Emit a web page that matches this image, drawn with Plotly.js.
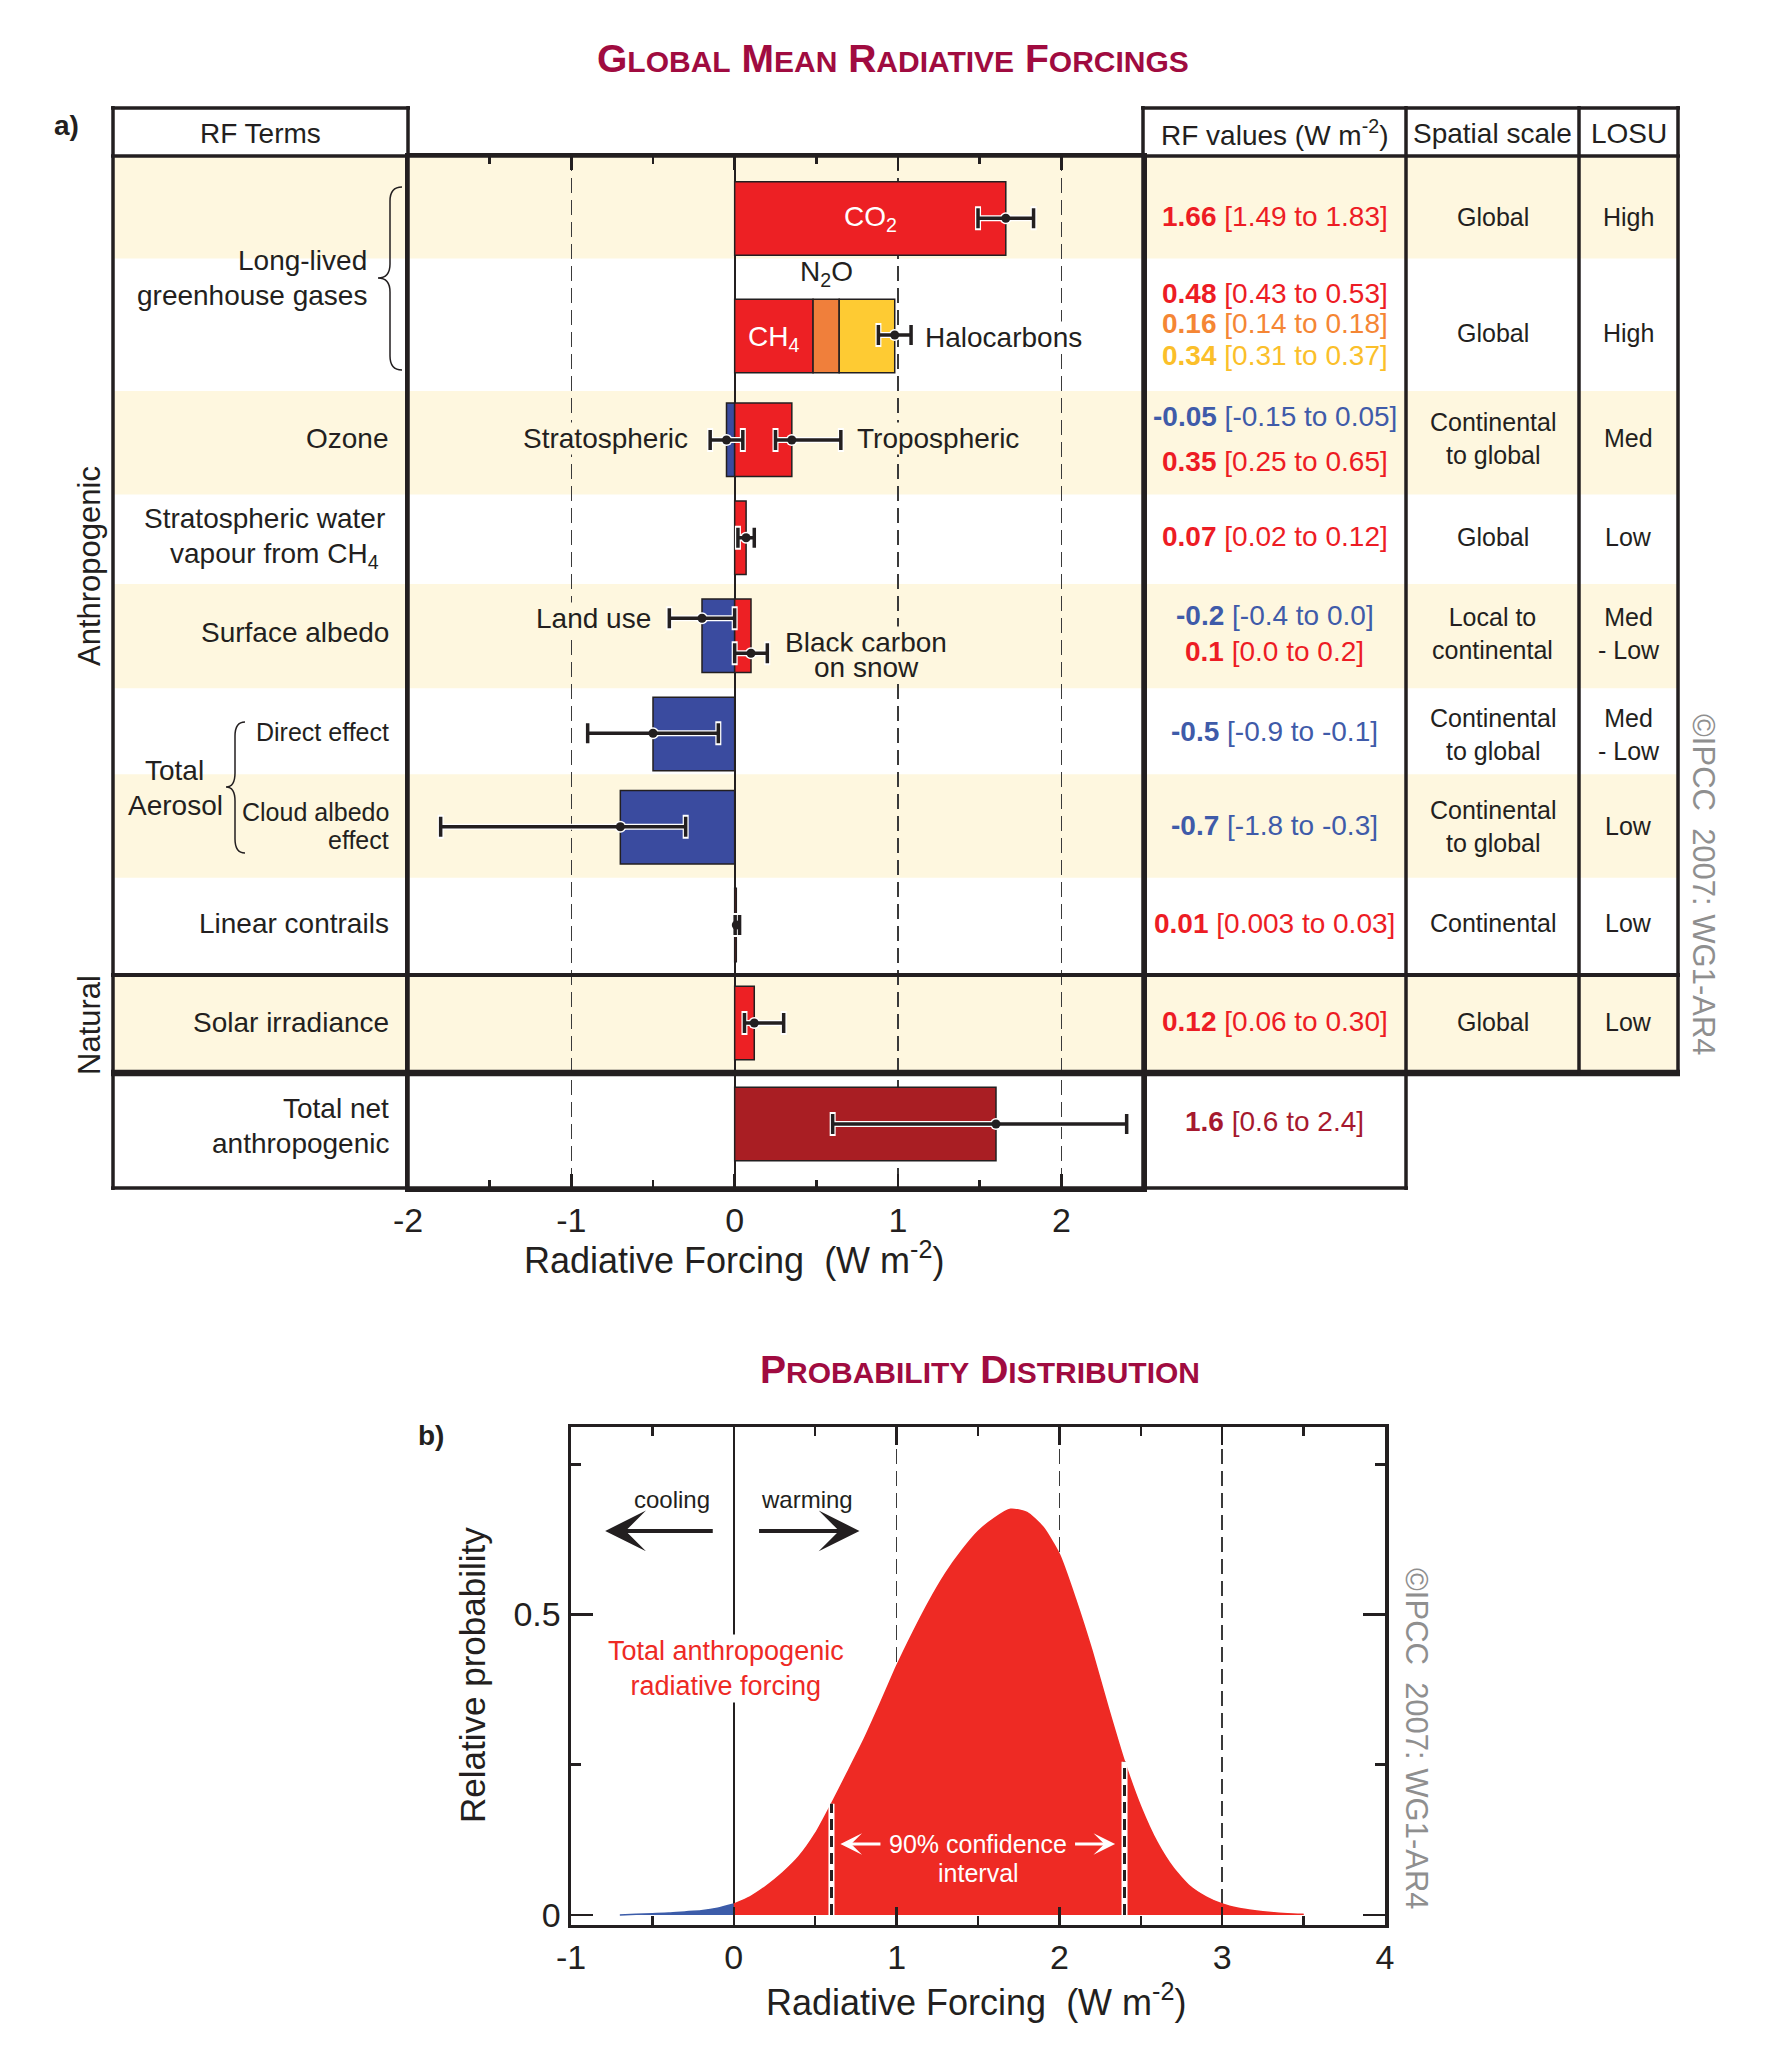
<!DOCTYPE html>
<html><head><meta charset="utf-8">
<script src="https://cdn.plot.ly/plotly-3.0.1.min.js"></script>
<style>html,body{margin:0;padding:0;background:#fff}</style>
</head><body><div id="chart" style="width:1772px;height:2048px"></div>
<script>
// ================= DATA : panel a (Global mean radiative forcings, W m-2) =================
const barTerms  = ['CO2','CH4','N2O','Halocarbons','Stratospheric ozone','Tropospheric ozone',
                   'Stratospheric water vapour from CH4','Land use','Black carbon on snow',
                   'Aerosol direct effect','Cloud albedo effect','Linear contrails','Solar irradiance',
                   'Total net anthropogenic'];
const barValues = [1.66, 0.48, 0.16, 0.34, -0.05, 0.35, 0.07, -0.2, 0.1, -0.5, -0.7, 0.01, 0.12, 1.6];
const barRow    = [0, 1, 1, 1, 2, 2, 3, 4, 4, 5, 6, 7, 8, 9];   // which table row each bar sits in

// uncertainty ranges drawn as whiskers (LLGHG non-CO2 stack has one whisker at its end)
const errTerms = ['CO2','CH4+N2O+Halocarbons','Stratospheric ozone','Tropospheric ozone',
                  'Stratospheric water vapour','Land use','Black carbon on snow','Direct effect',
                  'Cloud albedo effect','Linear contrails','Solar irradiance','Total net anthropogenic'];
const errOfBar = [0, 3, 4, 5, 6, 7, 8, 9, 10, 11, 12, 13];
const errLow   = [1.49, 0.88, -0.15, 0.25, 0.02, -0.4, 0.0, -0.9, -1.8, 0.003, 0.06, 0.6];
const errHigh  = [1.83, 1.08,  0.05, 0.65, 0.12,  0.0, 0.2, -0.1, -0.3, 0.03, 0.30, 2.4];

// table text
const rfMain  = ['1.66','0.48','0.16','0.34','-0.05','0.35','0.07','-0.2','0.1','-0.5','-0.7','0.01','0.12','1.6'];
const rfRange = ['[1.49 to 1.83]','[0.43 to 0.53]','[0.14 to 0.18]','[0.31 to 0.37]','[-0.15 to 0.05]',
                 '[0.25 to 0.65]','[0.02 to 0.12]','[-0.4 to 0.0]','[0.0 to 0.2]','[-0.9 to -0.1]',
                 '[-1.8 to -0.3]','[0.003 to 0.03]','[0.06 to 0.30]','[0.6 to 2.4]'];
const spatialScale = ['Global','Global','Continental<br>to global','Global','Local to<br>continental',
                      'Continental<br>to global','Continental<br>to global','Continental','Global'];
const losu = ['High','High','Med','Low','Med<br>- Low','Med<br>- Low','Low','Low','Low'];
const termLabels = ['Long-lived','greenhouse gases','Ozone','Stratospheric water','vapour from CH<sub>4</sub>',
                    'Surface albedo','Direct effect','Cloud albedo','effect','Linear contrails',
                    'Solar irradiance','Total net','anthropogenic'];
const xTicksA = [-2, -1, 0, 1, 2];

// ================= DATA : panel b (probability distribution) =================
const pdfX = [-0.7,-0.6,-0.5,-0.4,-0.3,-0.2,-0.1,0.0,0.1,0.2,0.3,0.4,0.5,0.6,0.7,0.8,0.9,1.0,1.1,1.2,1.3,1.4,
              1.5,1.6,1.7,1.8,1.9,2.0,2.1,2.2,2.3,2.4,2.5,2.6,2.7,2.8,2.9,3.0,3.1,3.2,3.3,3.4,3.5];
const pdfY = [0.000,0.001,0.002,0.003,0.005,0.007,0.011,0.018,0.030,0.048,0.070,0.097,0.135,0.185,0.238,
              0.292,0.352,0.414,0.470,0.522,0.568,0.606,0.638,0.660,0.675,0.670,0.645,0.600,0.525,0.440,
              0.345,0.255,0.180,0.121,0.078,0.048,0.030,0.018,0.011,0.007,0.004,0.002,0.001];
const ci90 = [0.6, 2.4];
const xTicksB = [-1, 0, 1, 2, 3, 4];
const yTicksB = [0, 0.5];

// ================= LAYOUT / STYLE =================
const W = 1772, H = 2048;
const px = v => v / W;
const py = v => 1 - v / H;
const FONT = 'Liberation Sans, Arial, Helvetica, sans-serif';
const INK = '#231f20';
const RED = '#ed2024', BLUE = '#3a4b9f', ORANGE = '#f07f3b', YELLOW = '#fecb33', DRED = '#a91e23';
const TRED = '#ed1c24', TBLUE = '#3f5ba9', TORANGE = '#f58634', TYELLOW = '#fbbf2a', TDRED = '#a6192e';
const BEIGE = '#fef7df';
const TITLE_C = '#a00b40';

const barColor = [RED, RED, ORANGE, YELLOW, BLUE, RED, RED, BLUE, RED, BLUE, BLUE, RED, RED, DRED];
const textColorOf = {}; textColorOf[RED]=TRED; textColorOf[BLUE]=TBLUE; textColorOf[ORANGE]=TORANGE;
textColorOf[YELLOW]=TYELLOW; textColorOf[DRED]=TDRED;

// panel a geometry (pixels of the page); y axis units = pixels below plot top (156)
const A_L = 408, A_R = 1143, A_T = 156, A_B = 1188;
const rowBarY = [62.5, 180, 283.7, 381.7, 479.8, 578, 671.3, 769, 867, 968];
const BAR_H = 73.5;
const errY = [62.3, 179, 284, 284, 381.7, 462.3, 497.3, 577.3, 670.7, 769, 867, 968];

// stacking: positive bars in one row stack on positives, negatives on negatives
const barBase = []; const posAcc = {}, negAcc = {};
barValues.forEach((v, i) => {
  const r = barRow[i];
  if (v >= 0) { barBase.push(posAcc[r] || 0); posAcc[r] = (posAcc[r] || 0) + v; }
  else { barBase.push(negAcc[r] || 0); negAcc[r] = (negAcc[r] || 0) + v; }
});
const barY = barRow.map(r => rowBarY[r]);
const errMid = errOfBar.map(i => barBase[i] + barValues[i]);

const data = [];
data.push({type:'bar', orientation:'h', x: barValues, base: barBase, y: barY,
  width: barY.map(() => BAR_H), xaxis:'x', yaxis:'y', hoverinfo:'skip',
  marker:{color: barColor, line:{color: INK, width: 1.5}}});
// whiskers: white halo then black
data.push({type:'scatter', mode:'markers', x: errMid, y: errY, xaxis:'x', yaxis:'y', hoverinfo:'skip',
  marker:{color:'#ffffff', size:12},
  error_x:{type:'data', symmetric:false, array: errHigh.map((h,i)=>h-errMid[i]),
    arrayminus: errLow.map((l,i)=>errMid[i]-l), color:'#ffffff', thickness:6, width:12}});
data.push({type:'scatter', mode:'markers', x: errMid, y: errY, xaxis:'x', yaxis:'y', hoverinfo:'skip',
  marker:{color: INK, size:9},
  error_x:{type:'data', symmetric:false, array: errHigh.map((h,i)=>h-errMid[i]),
    arrayminus: errLow.map((l,i)=>errMid[i]-l), color: INK, thickness:3.5, width:10}});

// panel b curve
const bx = [], byy = [], rx = [], ry = [];
pdfX.forEach((x, i) => { if (x <= 0) { bx.push(x); byy.push(pdfY[i]); } if (x >= 0) { rx.push(x); ry.push(pdfY[i]); } });
data.push({type:'scatter', mode:'lines', x: bx, y: byy, xaxis:'x2', yaxis:'y2', fill:'tozeroy',
  fillcolor:'#3c5ca9', line:{color:'#3c5ca9', width:1.5, shape:'spline', smoothing:0.6}, hoverinfo:'skip'});
data.push({type:'scatter', mode:'lines', x: rx, y: ry, xaxis:'x2', yaxis:'y2', fill:'tozeroy',
  fillcolor:'#ee2a24', line:{color:'#ee2a24', width:1.5, shape:'spline', smoothing:0.6}, hoverinfo:'skip'});
ci90.forEach(c => {
  const k = pdfX.findIndex(x => Math.abs(x - c) < 1e-9);
  const h = pdfY[k];
  data.push({type:'scatter', mode:'lines', x:[c, c], y:[0, h], xaxis:'x2', yaxis:'y2',
    line:{color:'#ffffff', width:6}, hoverinfo:'skip'});
  data.push({type:'scatter', mode:'lines', x:[c, c], y:[0, h], xaxis:'x2', yaxis:'y2',
    line:{color: INK, width:3, dash:'11px,6px'}, hoverinfo:'skip'});
});

// ---------- shapes ----------
const shapes = [];
const shadeRows = [[156,258.5],[391,494.5],[584,688.3],[774.3,877.7],[975,1073]];
shadeRows.forEach(([a,b]) => shapes.push({type:'rect', xref:'paper', yref:'paper', layer:'below',
  x0:px(113), x1:px(1678), y0:py(b), y1:py(a), fillcolor:BEIGE, line:{width:0}}));
function hline(y, x0, x1, w){ shapes.push({type:'line', xref:'paper', yref:'paper', x0:px(x0), x1:px(x1), y0:py(y), y1:py(y), line:{color:INK, width:w}}); }
function vline(x, y0, y1, w){ shapes.push({type:'line', xref:'paper', yref:'paper', x0:px(x), x1:px(x), y0:py(y0), y1:py(y1), line:{color:INK, width:w}}); }
hline(108, 111, 410, 3.5); hline(108, 1141, 1680, 3.5);
hline(156, 111, 1680, 3.5);
hline(975, 111, 1680, 4);
hline(1073, 111, 1680, 6.5);
hline(1188, 111, 1408, 3.5);
vline(113, 106, 1190, 3.5); vline(408, 106, 1190, 3.5); vline(1143, 106, 1190, 3.5);
vline(1406, 106, 1190, 3.5); vline(1579, 106, 1076, 3.5); vline(1678, 106, 1076, 3.5);
// curly braces
function brace(xEnd, xV, xTip, yTop, yTip, yBot){
  const r = 14;
  const P = (x, y) => px(x) + ',' + py(y);
  const path = 'M' + P(xEnd, yTop) + ' Q' + P(xV, yTop) + ' ' + P(xV, yTop + r) +
    ' L' + P(xV, yTip - r) + ' Q' + P(xV, yTip) + ' ' + P(xTip, yTip) +
    ' Q' + P(xV, yTip) + ' ' + P(xV, yTip + r) +
    ' L' + P(xV, yBot - r) + ' Q' + P(xV, yBot) + ' ' + P(xEnd, yBot);
  shapes.push({type:'path', xref:'paper', yref:'paper', path, line:{color:INK, width:1.5}});
}
brace(402, 390, 378, 187, 278, 370);
brace(245, 235, 226, 722, 787, 853);

// ---------- annotations ----------
const ann = [];
function note(o){ const f = Object.assign({family:FONT, size:28, color:INK}, o.font || {}); 
  return Object.assign({showarrow:false, xref:'paper', yref:'paper', xanchor:'center', yanchor:'middle'}, o, {font:f}); }
// titles
function smallCaps(words, big, small){
  return '<b>' + words.map(w => w[0] + '<span style="font-size:' + small + 'px">' + w.slice(1).toUpperCase() + '</span>').join(' ') + '</b>';
}
ann.push(note({x:px(893), y:py(58), text: smallCaps(['Global','Mean','Radiative','Forcings'], 39, 30), font:{size:39, color:TITLE_C}}));
ann.push(note({x:px(980), y:py(1369), text: smallCaps(['Probability','Distribution'], 39, 30), font:{size:39, color:TITLE_C}}));
ann.push(note({x:px(66), y:py(125), text:'<b>a)</b>', font:{size:28}}));
ann.push(note({x:px(431), y:py(1435), text:'<b>b)</b>', font:{size:28}}));
// headers
ann.push(note({x:px(260.5), y:py(133), text:'RF Terms', font:{size:28}}));
ann.push(note({x:px(1274.5), y:py(133), text:'RF values (W m<sup>-2</sup>)', font:{size:28}}));
ann.push(note({x:px(1492.5), y:py(133), text:'Spatial scale', font:{size:28}}));
ann.push(note({x:px(1628.5), y:py(133), text:'LOSU', font:{size:28}}));
// left column labels (right aligned)
const termPos = [[369,260,28],[369,295,28],[391,438,28],[387,518,28],[381,555,28],[391,632,28],
                 [391,732,25],[391,812,25],[391,840,25],[391,923,28],[391,1022,28],[391,1108,28],[391,1143,28]];
termLabels.forEach((t, i) => ann.push(note({x:px(termPos[i][0]), y:py(termPos[i][1]), xanchor:'right',
  text:t, font:{size:termPos[i][2]}})));
ann.push(note({x:px(174), y:py(770), text:'Total', font:{size:28}}));
ann.push(note({x:px(175), y:py(805), text:'Aerosol', font:{size:28}}));
ann.push(note({x:px(89), y:py(566), text:'Anthropogenic', textangle:-90, font:{size:31}}));
ann.push(note({x:px(89), y:py(1025), text:'Natural', textangle:-90, font:{size:31}}));
// RF values column
const rfY = [216.7, 293.3, 323.3, 355, 416.7, 461.7, 536.7, 615, 651.6, 731.7, 825, 923.3, 1021.7, 1121.7];
rfMain.forEach((m, i) => ann.push(note({x:px(1274.5), y:py(rfY[i]), text:'<b>' + m + '</b> ' + rfRange[i],
  font:{size:28, color: textColorOf[barColor[i]]}})));
const cellY = [216.7, 333.3, 438, 536.7, 633, 734, 826, 923.3, 1021.7];
spatialScale.forEach((s, i) => ann.push(note({x:px(1492.5), y:py(cellY[i]), text:s, font:{size:25}})));
losu.forEach((s, i) => ann.push(note({x:px(1628.5), y:py(cellY[i]), text:s, font:{size:25}})));
// copyright
ann.push(note({x:px(1704), y:py(885), text:'©IPCC\u00a0 2007: WG1-AR4', textangle:90, font:{size:31, color:'#8f8f8f'}}));
ann.push(note({x:px(1417), y:py(1739), text:'©IPCC\u00a0 2007: WG1-AR4', textangle:90, font:{size:31, color:'#8f8f8f'}}));
// in-plot labels panel a (data coordinates); backgrounds hide the dashed grid behind the words
function noteA(o){ return note(Object.assign({xref:'x', yref:'y'}, o)); }
ann.push(noteA({x:0.83, y:62.5, text:'CO<sub>2</sub>', font:{size:28, color:'#ffffff'}}));
ann.push(noteA({x:0.24, y:182, text:'CH<sub>4</sub>', font:{size:28, color:'#ffffff'}}));
ann.push(noteA({x:0.56, y:117, text:'N<sub>2</sub>O', font:{size:28}}));
ann.push(noteA({x:1.16, y:181, xanchor:'left', text:'Halocarbons', bgcolor:'#ffffff', borderpad:0, font:{size:28}}));
ann.push(noteA({x:-0.28, y:282, xanchor:'right', text:'Stratospheric', bgcolor:BEIGE, borderpad:0, font:{size:28}}));
ann.push(noteA({x:0.74, y:282, xanchor:'left', text:'Tropospheric', bgcolor:BEIGE, borderpad:0, font:{size:28}}));
ann.push(noteA({x:-0.505, y:462, xanchor:'right', text:'Land use', bgcolor:BEIGE, borderpad:0, font:{size:28}}));
ann.push(noteA({x:0.806, y:486, text:'Black carbon', bgcolor:BEIGE, borderpad:0, font:{size:28}}));
ann.push(noteA({x:0.806, y:511, text:'on snow', bgcolor:BEIGE, borderpad:0, font:{size:28}}));
// axis titles
ann.push(noteA({x:0, yref:'paper', y:py(1258), text:'Radiative Forcing\u00a0 (W m<sup>-2</sup>)', font:{size:36}}));
ann.push(note({x:px(976), y:py(2000), text:'Radiative Forcing\u00a0 (W m<sup>-2</sup>)', font:{size:36}}));
ann.push(note({x:px(472), y:py(1675), text:'Relative probability', textangle:-90, font:{size:35}}));
// panel b labels
function noteB(o){ return note(Object.assign({xref:'x2', yref:'y2'}, o)); }
ann.push(noteB({x:-0.38, y:0.6915, text:'cooling', font:{size:24}}));
ann.push(noteB({x:0.45, y:0.6915, text:'warming', font:{size:24}}));
ann.push(noteB({x:-0.79, y:0.639, ax:-0.12, ay:0.639, axref:'x2', ayref:'y2', text:'', showarrow:true,
  arrowhead:3, arrowsize:1.7, arrowwidth:4, arrowcolor:INK}));
ann.push(noteB({x:0.772, y:0.639, ax:0.146, ay:0.639, axref:'x2', ayref:'y2', text:'', showarrow:true,
  arrowhead:3, arrowsize:1.7, arrowwidth:4, arrowcolor:INK}));
ann.push(noteB({x:-0.05, y:0.41, text:'Total anthropogenic<br>radiative forcing', bgcolor:'#ffffff',
  font:{size:27, color:'#ee2a24'}}));
ann.push(noteB({x:1.5, y:0.118, text:'90% confidence', font:{size:25, color:'#ffffff'}}));
ann.push(noteB({x:1.5, y:0.070, text:'interval', font:{size:25, color:'#ffffff'}}));
ann.push(noteB({x:0.655, y:0.118, ax:0.91, ay:0.118, axref:'x2', ayref:'y2', text:'', showarrow:true,
  arrowhead:3, arrowsize:1.2, arrowwidth:3, arrowcolor:'#ffffff'}));
ann.push(noteB({x:2.342, y:0.118, ax:2.087, ay:0.118, axref:'x2', ayref:'y2', text:'', showarrow:true,
  arrowhead:3, arrowsize:1.2, arrowwidth:3, arrowcolor:'#ffffff'}));

const axBase = {showline:true, linecolor:INK, linewidth:3.5, fixedrange:true, tickcolor:INK,
  tickfont:{family:FONT, size:34, color:INK}};
const layout = {
  width:W, height:H, margin:{l:0, r:0, t:0, b:0}, paper_bgcolor:'#ffffff', plot_bgcolor:'rgba(0,0,0,0)',
  showlegend:false, barmode:'overlay', hovermode:false, font:{family:FONT, color:INK, size:28},
  xaxis: Object.assign({}, axBase, {domain:[px(A_L), px(A_R)], anchor:'y', range:[-2, 2.5],
    tickvals:xTicksA, ticktext:xTicksA.map(String), ticks:'inside', ticklen:14, tickwidth:2.5, mirror:'ticks',
    showgrid:true, gridcolor:'#3a3a3a', gridwidth:1.5, griddash:'15px,7px',
    zeroline:true, zerolinecolor:INK, zerolinewidth:2,
    minor:{tickvals:[-1.5,-0.5,0.5,1.5], ticks:'inside', ticklen:8, tickwidth:2.5, tickcolor:INK, showgrid:false}}),
  yaxis: Object.assign({}, axBase, {domain:[py(A_B), py(A_T)], anchor:'x', range:[A_B - A_T, 0],
    showticklabels:false, ticks:'', mirror:true, showgrid:false, zeroline:false}),
  xaxis2: Object.assign({}, axBase, {domain:[px(571), px(1385)], anchor:'y2', range:[-1, 4],
    tickvals:xTicksB, ticktext:xTicksB.map(String), ticks:'inside', ticklen:18, tickwidth:2.5, mirror:'ticks',
    showgrid:true, gridcolor:'#3a3a3a', gridwidth:1.5, griddash:'15px,7px',
    zeroline:true, zerolinecolor:INK, zerolinewidth:1.5,
    minor:{tickvals:[-0.5,0.5,1.5,2.5,3.5], ticks:'inside', ticklen:9, tickwidth:2.5, tickcolor:INK, showgrid:false}}),
  yaxis2: Object.assign({}, axBase, {domain:[py(1924.5), py(1427)], anchor:'x2', range:[-0.016, 0.812],
    tickvals:yTicksB, ticktext:['0','0.5'], ticks:'inside', ticklen:22, tickwidth:2.5, mirror:'ticks',
    showgrid:false, zeroline:false,
    minor:{tickvals:[0.25,0.75], ticks:'inside', ticklen:10, tickwidth:2.5, tickcolor:INK, showgrid:false}}),
  shapes: shapes, annotations: ann
};
Plotly.newPlot('chart', data, layout, {displayModeBar:false, staticPlot:true});
</script></body></html>
